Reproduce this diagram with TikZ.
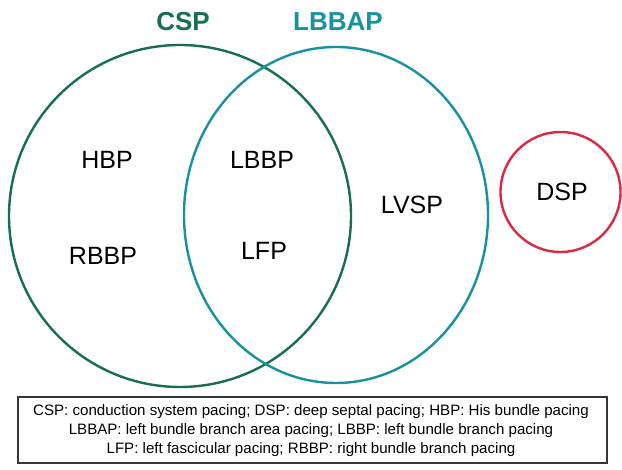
\documentclass[tikz,border=0pt]{standalone}
\usepackage{fontspec}
\setmainfont{Liberation Sans}
\usetikzlibrary{shapes.geometric}
\definecolor{cspgreen}{RGB}{24,110,82}
\definecolor{lbbapteal}{RGB}{22,146,160}
\definecolor{dspred}{RGB}{218,40,70}
\definecolor{boxgray}{RGB}{55,55,55}
\tikzset{
  setline/.style={line width=2.4pt, inner sep=0pt},
  lbl/.style={font=\fontsize{25}{28}\selectfont, text=black, inner sep=0pt},
  ttl/.style={font=\fontsize{26}{30}\selectfont\bfseries, inner sep=0pt},
}
\begin{document}
\begin{tikzpicture}[x=1pt,y=1pt]
\useasboundingbox[fill=white] (0,0) rectangle (622,470);
\node[setline, draw=cspgreen, circle, minimum size=342pt] (csp) at (180,254) {};
\node[setline, draw=lbbapteal, ellipse, minimum width=304pt, minimum height=336pt] (lbbap) at (336,255) {};
\node[setline, draw=dspred, circle, minimum size=120pt] (dspc) at (560.5,278) {};
\node[ttl, text=cspgreen] (csptitle) at (183,448) {CSP};
\node[ttl, text=lbbapteal] (lbbaptitle) at (338,448) {LBBAP};
\node[lbl] (hbp) at (107,310) {HBP};
\node[lbl] (rbbp) at (103,214) {RBBP};
\node[lbl] (lbbp) at (262,310) {LBBP};
\node[lbl] (lfp) at (264,219) {LFP};
\node[lbl] (lvsp) at (412,265) {LVSP};
\node[lbl] (dsp) at (562,278) {DSP};
\node[draw=boxgray, line width=1.5pt, minimum width=589pt, minimum height=66pt, inner sep=0pt] (legendbox) at (312.5,40) {};
\node[align=center, font=\fontsize{15.1}{19}\selectfont, inner sep=0pt] (legend) at (311,39) {CSP: conduction system pacing; DSP: deep septal pacing; HBP: His bundle pacing\\LBBAP: left bundle branch area pacing; LBBP: left bundle branch pacing\\LFP: left fascicular pacing; RBBP: right bundle branch pacing};
\end{tikzpicture}
\end{document}
